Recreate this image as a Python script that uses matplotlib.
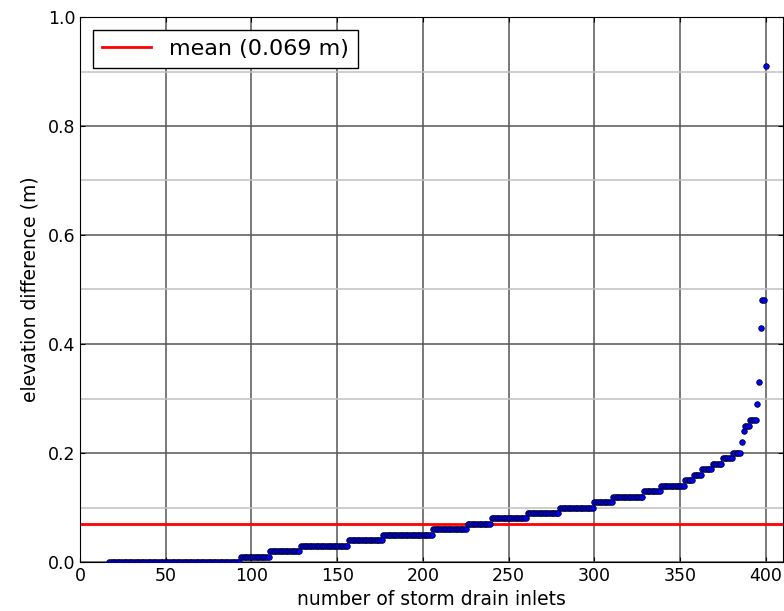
import numpy as np
import matplotlib
matplotlib.use('Agg')
import matplotlib.pyplot as plt
from matplotlib.ticker import MultipleLocator

FIRST_INLET = 17
levels = [0.00, 0.01, 0.02, 0.03, 0.04, 0.05, 0.06, 0.07, 0.08, 0.09,
          0.10, 0.11, 0.12, 0.13, 0.14, 0.15, 0.16, 0.17, 0.18, 0.19,
          0.20, 0.22, 0.24, 0.25, 0.26, 0.29, 0.33, 0.43, 0.48, 0.91]
counts = [77, 17, 18, 28, 20, 29, 20, 14, 21, 19,
          20, 11, 18, 10, 14, 5, 5, 6, 6, 6,
          5, 1, 1, 3, 4, 1, 1, 1, 2, 1]
MEAN = 0.069

DOT_COLOR = "blue"
MEAN_COLOR = "red"

elev = np.repeat(levels, counts)
inlets = np.arange(FIRST_INLET, FIRST_INLET + len(elev))

plt.rcParams['font.family'] = ['DejaVu Sans']
fig = plt.figure(figsize=(7.84, 6.11), dpi=100)
ax = fig.add_axes([80 / 784, 49 / 611, 703 / 784, 545 / 611])

ax.plot(inlets, elev, 'o', color=DOT_COLOR, mec='#000033', mew=0.6, ms=4.0, zorder=3)
ax.axhline(MEAN, color=MEAN_COLOR, lw=2, label=f'mean ({MEAN:.3f} m)', zorder=2)

ax.set_xlim(0, 410)
ax.set_ylim(0, 1.0)
ax.xaxis.set_major_locator(MultipleLocator(50))
ax.yaxis.set_major_locator(MultipleLocator(0.2))
ax.yaxis.set_minor_locator(MultipleLocator(0.1))
ax.grid(True, which='major', color='#555555', lw=1.1, ls='-')
ax.grid(True, which='minor', axis='y', color='#c0c0c0', lw=1.1, ls='-')
ax.set_axisbelow(True)
ax.tick_params(which='both', direction='in', top=True, right=True, labelsize=12.5)
ax.tick_params(which='minor', length=0)
for s in ax.spines.values():
    s.set_color('black')

ax.set_xlabel('number of storm drain inlets', fontsize=13.5, labelpad=4)
ax.set_ylabel('elevation difference (m)', fontsize=13.5, labelpad=6)

leg = ax.legend(loc='upper left', fontsize=16, fancybox=False, framealpha=1,
                edgecolor='black', borderaxespad=0.6, handlelength=2.2)
leg.get_frame().set_linewidth(1.0)

fig.savefig('out.png', dpi=100)
